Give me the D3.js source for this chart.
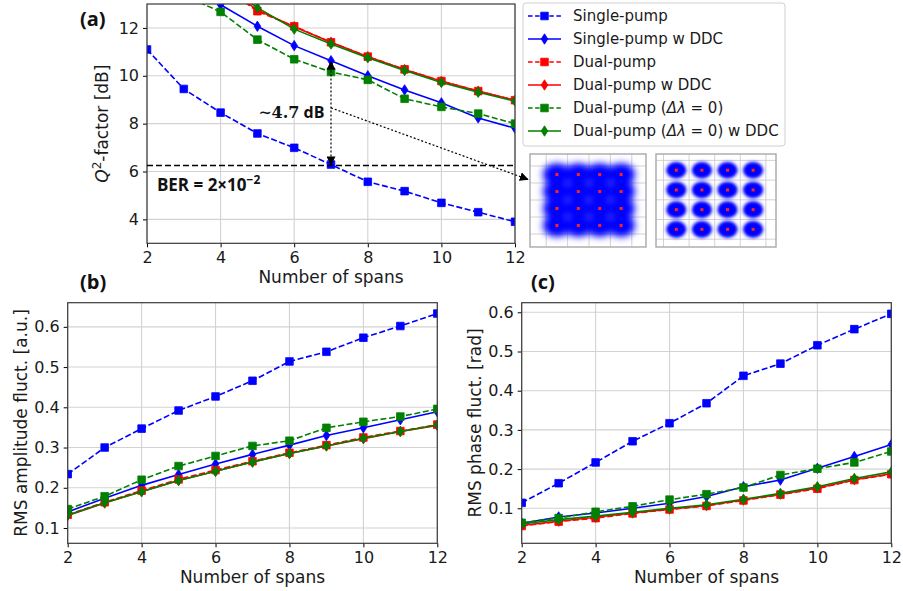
<!DOCTYPE html>
<html>
<head>
<meta charset="utf-8">
<script src="https://cdn.jsdelivr.net/npm/d3@7"></script>
<style>
body { margin:0; background:#fff; }
svg { display:block; font-family:"DejaVu Sans", sans-serif; }
.tick text { font-size:16px; fill:#1a1a1a; }
.axlabel { font-size:17px; fill:#1a1a1a; }
.plabel { font-family:"Open Sans", sans-serif; font-weight:bold; font-size:20px; fill:#111; }
.legtxt { font-size:15px; fill:#1a1a1a; }
</style>
</head>
<body>
<script>
// Q-factor and RMS fluctuation vs number of spans

var spans = [2, 3, 4, 5, 6, 7, 8, 9, 10, 11, 12];
var xTicks = [2, 4, 6, 8, 10, 12];

// (a) Q^2-factor [dB]
var qSingle     = [11.10, 9.45, 8.46, 7.59, 6.99, 6.29, 5.57, 5.18, 4.69, 4.30, 3.90];
var qSingleDDC  = [15.00, 13.90, 12.97, 12.07, 11.26, 10.63, 10.00, 9.41, 8.87, 8.24, 7.81];
var qDual       = [16.00, 14.90, 13.80, 12.70, 12.07, 11.40, 10.80, 10.27, 9.78, 9.36, 8.98];
var qDualDDC    = [16.00, 14.90, 13.85, 12.75, 12.05, 11.40, 10.80, 10.26, 9.77, 9.36, 8.98];
var qDual0      = [14.30, 13.36, 12.67, 11.51, 10.69, 10.16, 9.83, 9.04, 8.70, 8.42, 8.00];
var qDual0DDC   = [16.20, 15.00, 13.95, 12.85, 11.95, 11.33, 10.75, 10.22, 9.72, 9.31, 8.94];
var qTicks = [4, 6, 8, 10, 12];
var berLevel = 6.25;

// (b) RMS amplitude fluct. [a.u.]
var ampSingle    = [0.234, 0.300, 0.347, 0.392, 0.427, 0.466, 0.514, 0.538, 0.573, 0.602, 0.633];
var ampSingleDDC = [0.140, 0.174, 0.206, 0.233, 0.259, 0.283, 0.306, 0.330, 0.349, 0.369, 0.389];
var ampDual      = [0.133, 0.164, 0.193, 0.221, 0.244, 0.266, 0.287, 0.306, 0.325, 0.341, 0.357];
var ampDualDDC   = [0.131, 0.162, 0.191, 0.218, 0.241, 0.264, 0.285, 0.304, 0.322, 0.340, 0.355];
var ampDual0     = [0.147, 0.179, 0.220, 0.254, 0.279, 0.304, 0.317, 0.349, 0.364, 0.377, 0.396];
var ampDual0DDC  = [0.132, 0.163, 0.190, 0.218, 0.241, 0.264, 0.285, 0.304, 0.323, 0.340, 0.356];

// (c) RMS phase fluct. [rad]
var phSingle    = [0.114, 0.164, 0.217, 0.271, 0.317, 0.368, 0.438, 0.469, 0.516, 0.557, 0.596];
var phSingleDDC = [0.062, 0.078, 0.088, 0.100, 0.113, 0.130, 0.155, 0.172, 0.202, 0.232, 0.263];
var phDual      = [0.055, 0.066, 0.075, 0.087, 0.097, 0.106, 0.120, 0.135, 0.150, 0.172, 0.187];
var phDualDDC   = [0.056, 0.067, 0.077, 0.088, 0.098, 0.107, 0.121, 0.136, 0.152, 0.173, 0.188];
var phDual0     = [0.063, 0.075, 0.091, 0.105, 0.122, 0.136, 0.153, 0.185, 0.201, 0.217, 0.245];
var phDual0DDC  = [0.060, 0.071, 0.080, 0.090, 0.100, 0.109, 0.123, 0.138, 0.155, 0.176, 0.193];
var rmsTicks = [0.1, 0.2, 0.3, 0.4, 0.5, 0.6];

var legendLabels = ["Single-pump", "Single-pump w DDC", "Dual-pump", "Dual-pump w DDC",
                    "Dual-pump (Δλ = 0)", "Dual-pump (Δλ = 0) w DDC"];

// 16-QAM constellation insets
var qamLevels = [-3, -1, 1, 3];
var qamGrid = [-4, -2, 0, 2, 4];

// styles, in plotting order
var styles = [
    {color:"#0000ff", dash:true,  mark:"square"},
    {color:"#0000ff", dash:false, mark:"diamond"},
    {color:"#ff0000", dash:true,  mark:"square"},
    {color:"#ff0000", dash:false, mark:"diamond"},
    {color:"#008000", dash:true,  mark:"square"},
    {color:"#008000", dash:false, mark:"diamond"}
];

function markPath(kind){
    if(kind=="square") return "M-3.8,-3.8h7.6v7.6h-7.6z";
    return "M0,-5.2L3.3,0L0,5.2L-3.3,0Z";
}

var svg = d3.select("body").append("svg")
    .attr("width", 903)
    .attr("height", 591);

var defs = svg.append("defs");
defs.append("marker")
    .attr("id", "ahead")
    .attr("viewBox", "0 0 10 10")
    .attr("refX", 9).attr("refY", 5)
    .attr("markerWidth", 9).attr("markerHeight", 9)
    .attr("markerUnits", "userSpaceOnUse")
    .attr("orient", "auto-start-reverse")
  .append("path")
    .attr("d", "M0,0L10,5L0,10z")
    .attr("fill", "#000");

var clipId = 0;

function drawPanel(p, vals){
    var x = d3.scaleLinear().domain([2, 12]).range([p.left, p.right]);
    var y = d3.scaleLinear().domain(p.ydom).range([p.bottom, p.top]);
    var g = svg.append("g");

    // grid
    g.append("g").selectAll("line").data(xTicks).enter().append("line")
	.attr("x1", function(d){ return x(d); }).attr("x2", function(d){ return x(d); })
	.attr("y1", p.top).attr("y2", p.bottom)
	.attr("stroke", "#d2d2d2").attr("stroke-width", 1.1);
    g.append("g").selectAll("line").data(p.yticks).enter().append("line")
	.attr("y1", function(d){ return y(d); }).attr("y2", function(d){ return y(d); })
	.attr("x1", p.left).attr("x2", p.right)
	.attr("stroke", "#d2d2d2").attr("stroke-width", 1.1);

    clipId++;
    defs.append("clipPath").attr("id", "clip" + clipId)
      .append("rect")
	.attr("x", p.left).attr("y", p.top)
	.attr("width", p.right - p.left).attr("height", p.bottom - p.top);

    var plot = g.append("g").attr("clip-path", "url(#clip" + clipId + ")");
    var line = d3.line()
	.x(function(d){ return x(d[0]); })
	.y(function(d){ return y(d[1]); });

    vals.forEach(function(v, i){
	var st = styles[i];
	var pts = d3.zip(spans, v);
	plot.append("path")
	    .datum(pts)
	    .attr("d", line)
	    .attr("fill", "none")
	    .attr("stroke", st.color)
	    .attr("stroke-width", 1.6)
	    .attr("stroke-dasharray", st.dash ? "6,2.6" : null);
	plot.append("g").selectAll("path").data(pts).enter().append("path")
	    .attr("transform", function(d){ return "translate(" + x(d[0]) + "," + y(d[1]) + ")"; })
	    .attr("d", markPath(st.mark))
	    .attr("fill", st.color)
	    .attr("stroke", st.color)
	    .attr("stroke-width", 0.8);
    });

    var xa = g.append("g")
	.attr("transform", "translate(0," + p.bottom + ")")
	.call(d3.axisBottom(x).tickValues(xTicks).tickFormat(d3.format("d")).tickSize(4).tickPadding(4));
    var ya = g.append("g")
	.attr("transform", "translate(" + p.left + ",0)")
	.call(d3.axisLeft(y).tickValues(p.yticks).tickFormat(p.fmt).tickSize(4).tickPadding(4));
    xa.select(".domain").remove();
    ya.select(".domain").remove();
    g.selectAll(".tick text").attr("font-family", "DejaVu Sans").attr("font-size", 16);

    g.append("rect")
	.attr("x", p.left).attr("y", p.top)
	.attr("width", p.right - p.left).attr("height", p.bottom - p.top)
	.attr("fill", "none").attr("stroke", "#3a3a3a").attr("stroke-width", 1.2);

    g.append("text").attr("class", "axlabel")
	.attr("x", (p.left + p.right) / 2).attr("y", p.bottom + 40)
	.attr("text-anchor", "middle")
	.text("Number of spans");

    var yl = g.append("text").attr("class", "axlabel")
	.attr("text-anchor", "middle")
	.attr("transform", "translate(" + p.ylabX + "," + ((p.top + p.bottom) / 2) + ") rotate(-90)");
    p.ylabel(yl);

    g.append("text").attr("class", "plabel")
	.attr("x", p.labX).attr("y", p.labY)
	.text(p.letter);

    return {x:x, y:y, g:g};
}

// ---- panel (a)
var pa = drawPanel({
    left:147, right:515, top:4, bottom:243.3,
    ydom:[3, 13], yticks:qTicks, fmt:d3.format("d"),
    ylabX:108, labX:80, labY:26, letter:"(a)",
    ylabel:function(t){
	t.append("tspan").attr("font-style", "italic").text("Q");
	t.append("tspan").attr("font-size", 12).attr("dy", -7).text("2");
	t.append("tspan").attr("dy", 7).text("-factor [dB]");
    }
}, [qSingle, qSingleDDC, qDual, qDualDDC, qDual0, qDual0DDC]);

// BER threshold
pa.g.append("line")
    .attr("x1", pa.x(2)).attr("x2", pa.x(12))
    .attr("y1", pa.y(berLevel)).attr("y2", pa.y(berLevel))
    .attr("stroke", "#000").attr("stroke-width", 1.5)
    .attr("stroke-dasharray", "6,3");

var ber = pa.g.append("text")
    .attr("x", pa.x(2.27)).attr("y", pa.y(5.2))
    .attr("font-family", "Open Sans").attr("font-weight", "bold").attr("font-size", 17)
    .attr("fill", "#111");
ber.append("tspan").text("BER = 2×10");
ber.append("tspan").attr("font-size", 12).attr("dy", -7).text("−2");

// ~4.7 dB gap
pa.g.append("line")
    .attr("x1", pa.x(7)).attr("x2", pa.x(7))
    .attr("y1", pa.y(berLevel) - 1).attr("y2", pa.y(qSingleDDC[5]) + 1)
    .attr("stroke", "#000").attr("stroke-width", 1.2)
    .attr("stroke-dasharray", "2,2")
    .attr("marker-start", "url(#ahead)")
    .attr("marker-end", "url(#ahead)");

var gap = pa.g.append("text")
    .attr("x", pa.x(5.02)).attr("y", pa.y(8.25))
    .attr("font-weight", "bold").attr("font-size", 16).attr("fill", "#111");
gap.append("tspan").attr("font-family", "DejaVu Serif").text("∼4.7");
gap.append("tspan").attr("font-family", "Open Sans").text(" dB");

pa.g.append("line")
    .attr("x1", pa.x(7)).attr("y1", pa.y(8.66))
    .attr("x2", pa.x(12.35)).attr("y2", pa.y(5.67))
    .attr("stroke", "#000").attr("stroke-width", 1.2)
    .attr("stroke-dasharray", "2,2")
    .attr("marker-end", "url(#ahead)");

// ---- panel (b)
drawPanel({
    left:67.7, right:437.3, top:302.7, bottom:543.3,
    ydom:[0.062, 0.66], yticks:rmsTicks, fmt:d3.format(".1f"),
    ylabX:27, labX:80, labY:289, letter:"(b)",
    ylabel:function(t){ t.text("RMS amplitude fluct. [a.u.]"); }
}, [ampSingle, ampSingleDDC, ampDual, ampDualDDC, ampDual0, ampDual0DDC]);

// ---- panel (c)
drawPanel({
    left:521.7, right:891.3, top:302.7, bottom:543.3,
    ydom:[0.0107, 0.6245], yticks:rmsTicks, fmt:d3.format(".1f"),
    ylabX:481, labX:531, labY:289, letter:"(c)",
    ylabel:function(t){ t.text("RMS phase fluct. [rad]"); }
}, [phSingle, phSingleDDC, phDual, phDualDDC, phDual0, phDual0DDC]);

// ---- legend
var leg = svg.append("g");
leg.append("rect")
    .attr("x", 523).attr("y", 3).attr("width", 262).attr("height", 143)
    .attr("rx", 3).attr("fill", "#fff").attr("stroke", "#d0d0d0").attr("stroke-width", 1);

legendLabels.forEach(function(lab, i){
    var st = styles[i];
    var yy = 16 + i * 23;
    leg.append("line")
	.attr("x1", 528).attr("x2", 561).attr("y1", yy).attr("y2", yy)
	.attr("stroke", st.color).attr("stroke-width", 1.6)
	.attr("stroke-dasharray", st.dash ? "4.5,2.6" : null);
    leg.append("path")
	.attr("transform", "translate(544.5," + yy + ")")
	.attr("d", markPath(st.mark))
	.attr("fill", st.color).attr("stroke", st.color).attr("stroke-width", 0.8);
    var t = leg.append("text").attr("class", "legtxt")
	.attr("x", 573).attr("y", yy).attr("dy", "0.36em");
    var k = lab.indexOf("Δλ");
    if(k < 0){
	t.text(lab);
    }else{
	t.append("tspan").text(lab.slice(0, k));
	t.append("tspan").attr("font-style", "italic").text("Δλ");
	t.append("tspan").text(lab.slice(k + 2));
    }
});

// ---- constellation insets
var blurL = defs.append("filter").attr("id", "blurL")
    .attr("x", "-50%").attr("y", "-50%").attr("width", "200%").attr("height", "200%");
blurL.append("feGaussianBlur").attr("stdDeviation", 3.2);
var blurR = defs.append("filter").attr("id", "blurR")
    .attr("x", "-50%").attr("y", "-50%").attr("width", "200%").attr("height", "200%");
blurR.append("feGaussianBlur").attr("stdDeviation", 1.4);

function drawConst(c){
    var cx = d3.scaleLinear().domain([-1, 1]).range([c.cx - c.sx, c.cx + c.sx]);
    var cy = d3.scaleLinear().domain([-1, 1]).range([c.cy + c.sy, c.cy - c.sy]);
    var g = svg.append("g");
    clipId++;
    defs.append("clipPath").attr("id", "clip" + clipId)
      .append("rect").attr("x", c.x0).attr("y", c.y0).attr("width", c.w).attr("height", c.h);

    g.append("rect").attr("x", c.x0).attr("y", c.y0).attr("width", c.w).attr("height", c.h)
	.attr("fill", "#fff");
    var inner = g.append("g").attr("clip-path", "url(#clip" + clipId + ")");
    inner.selectAll("line.v").data(qamGrid).enter().append("line")
	.attr("x1", function(d){ return cx(d); }).attr("x2", function(d){ return cx(d); })
	.attr("y1", c.y0).attr("y2", c.y0 + c.h)
	.attr("stroke", "#c8c8c8").attr("stroke-width", 0.8);
    inner.selectAll("line.h").data(qamGrid).enter().append("line")
	.attr("y1", function(d){ return cy(d); }).attr("y2", function(d){ return cy(d); })
	.attr("x1", c.x0).attr("x2", c.x0 + c.w)
	.attr("stroke", "#c8c8c8").attr("stroke-width", 0.8);

    var pts = d3.cross(qamLevels, qamLevels);
    // faint halo
    inner.append("g").attr("filter", "url(#" + c.filter + ")")
      .selectAll("ellipse").data(pts).enter().append("ellipse")
	.attr("cx", function(d){ return cx(d[0]); }).attr("cy", function(d){ return cy(d[1]); })
	.attr("rx", c.rx * 1.3).attr("ry", c.ry * 1.3)
	.attr("fill", "#0000ff").attr("fill-opacity", c.halo);
    inner.append("g").attr("filter", "url(#" + c.filter + ")")
      .selectAll("ellipse").data(pts).enter().append("ellipse")
	.attr("cx", function(d){ return cx(d[0]); }).attr("cy", function(d){ return cy(d[1]); })
	.attr("rx", c.rx).attr("ry", c.ry)
	.attr("fill", "#0000ff").attr("fill-opacity", c.op);
    inner.selectAll("rect.c").data(pts).enter().append("rect")
	.attr("x", function(d){ return cx(d[0]) - 1.5; }).attr("y", function(d){ return cy(d[1]) - 1.5; })
	.attr("width", 3).attr("height", 3)
	.attr("fill", "#ff2020");

    g.append("rect").attr("x", c.x0).attr("y", c.y0).attr("width", c.w).attr("height", c.h)
	.attr("fill", "none").attr("stroke", "#a8a8a8").attr("stroke-width", 1.4);
}

drawConst({x0:530, y0:154, w:116, h:93, cx:589, cy:200, sx:10.7, sy:8.5,
	   rx:13, ry:10.5, op:1, halo:0.18, filter:"blurL"});
drawConst({x0:656, y0:154, w:120, h:93, cx:714.7, cy:199.8, sx:12.8, sy:9.85,
	   rx:10, ry:8.3, op:1, halo:0.06, filter:"blurR"});
</script>
</body>
</html>
